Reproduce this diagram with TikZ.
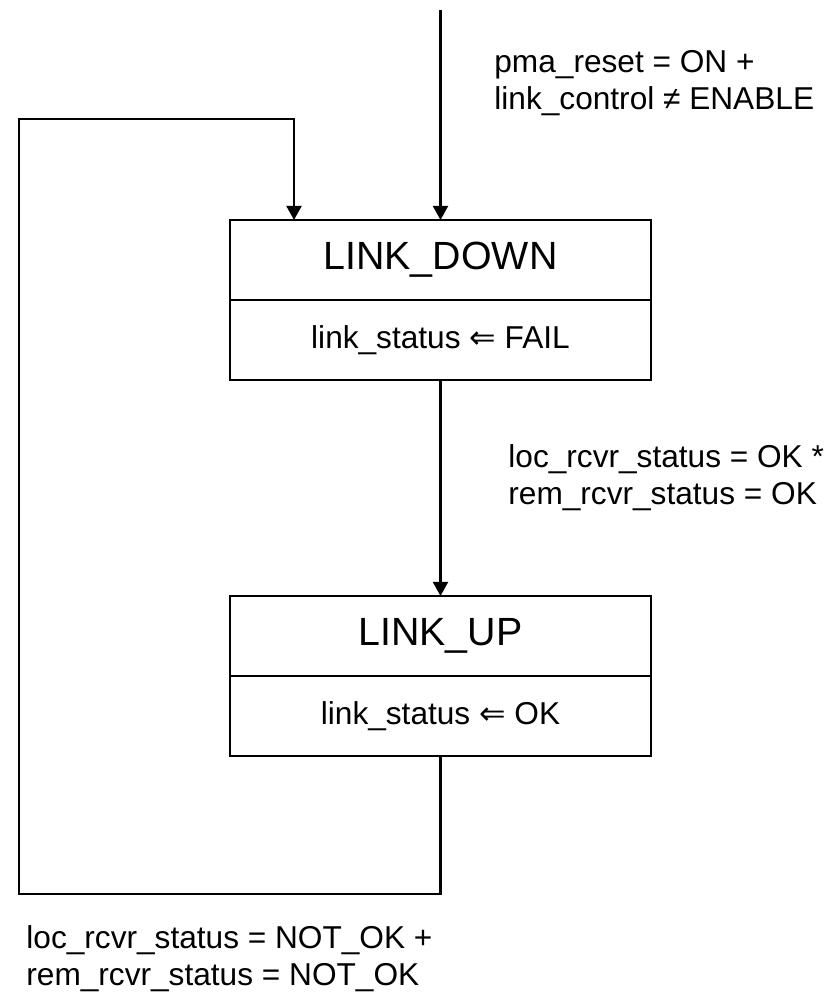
\documentclass[tikz,border=0pt]{standalone}
\usepackage{fontspec}
\setmainfont{Liberation Sans}
\newfontfamily\arrowfont{DejaVu Sans}
\usetikzlibrary{positioning, arrows.meta}
\newcommand{\assign}{{\arrowfont ⇐}}
\tikzset{
    statename/.style={draw, line width=2pt, minimum width=10.525cm, minimum height=2cm,
        inner sep=0pt, outer sep=0pt, font=\fontsize{28}{33}\selectfont},
    stateaction/.style={statename, font=\fontsize{22.5}{26.3}\selectfont},
    cond/.style={anchor=west, align=left, inner sep=0pt, font=\fontsize{22.5}{26.3}\selectfont}
}

\begin{document}
\begin{tikzpicture}[>={Triangle[width=10.5pt,length=10pt]}, line width=2pt]
            \useasboundingbox (0,0) rectangle (20.775,-24.925);

            \node [statename] (down) at (11.0125, -6.5) {LINK\_DOWN};
            \node [stateaction, below=0pt of down] (downact) {link\_status \assign{} FAIL};
            \node [statename] (up) at (11.0125, -15.9) {LINK\_UP};
            \node [stateaction, below=0pt of up] (upact) {link\_status \assign{} OK};

            \coordinate (in) at (11.0125, -0.25);
            \coordinate (loopbl) at (0.475, -22.35);
            \coordinate (looptr) at (7.35, -2.975);

            \node [cond] (reset) at (12.325, -2.075) {pma\_reset = ON +\\link\_control ≠ ENABLE};
            \node [cond] (ok) at (12.675, -11.95) {loc\_rcvr\_status = OK *\\rem\_rcvr\_status = OK};
            \node [cond] (notok) at (0.625, -23.97) {loc\_rcvr\_status = NOT\_OK +\\rem\_rcvr\_status = NOT\_OK};

            \draw [->] (in) -- (down);
            \draw [->] (downact) -- (up);
            \draw [->] (upact.south) |- (loopbl) |- (looptr) -- (looptr |- down.north);
        \end{tikzpicture}
\end{document}
